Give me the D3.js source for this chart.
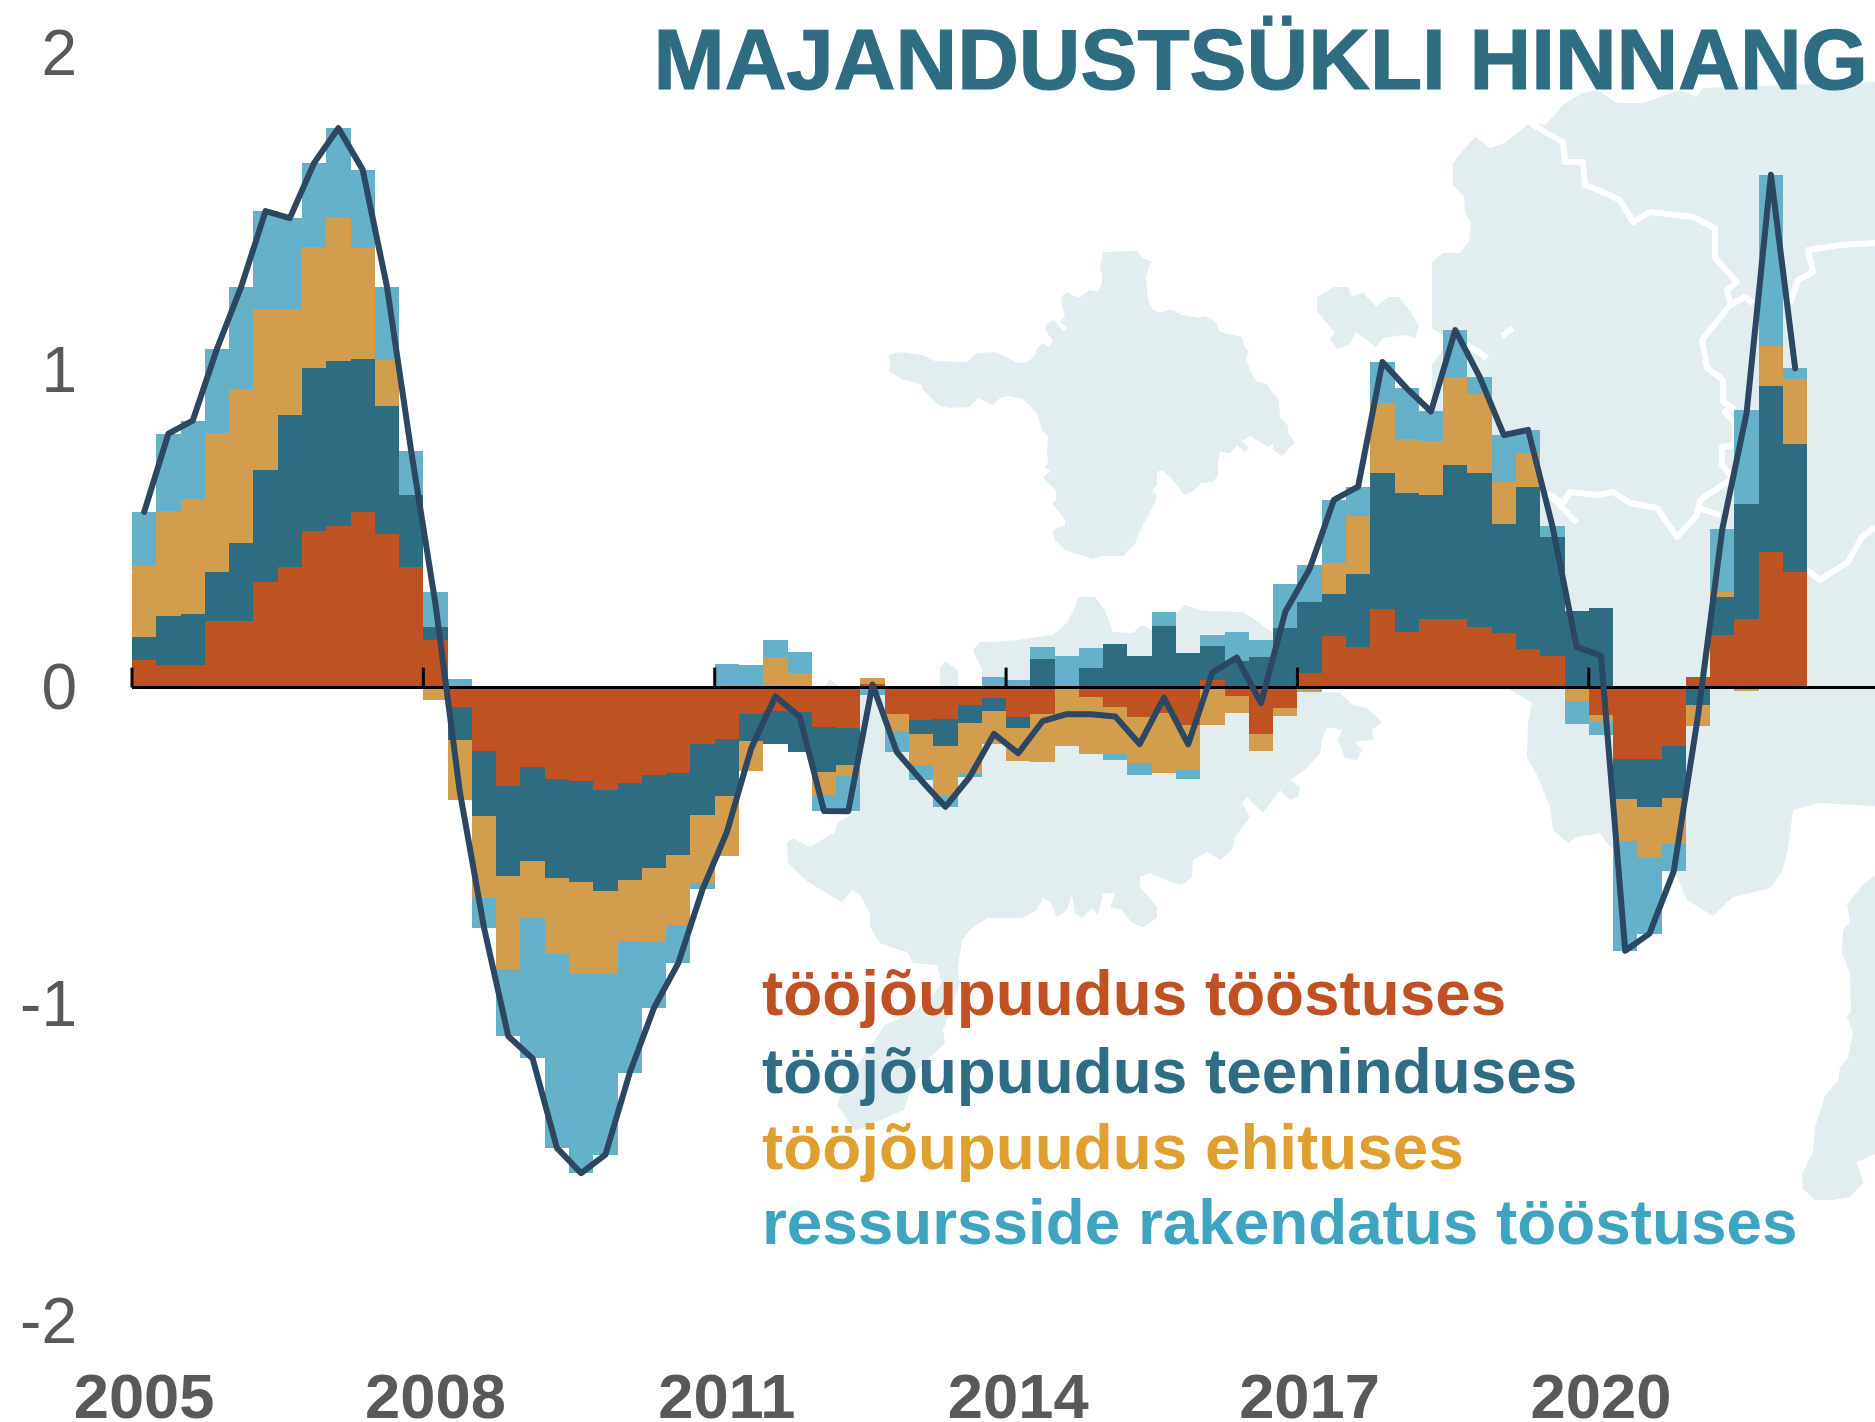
<!DOCTYPE html>
<html lang="et">
<head>
<meta charset="utf-8">
<title>Majandustsükli hinnang</title>
<script src="https://cdn.jsdelivr.net/npm/d3@7/dist/d3.min.js"></script>
<style>
html,body{margin:0;padding:0;background:#fff;}
svg{display:block;}
text{font-family:"Liberation Sans",Arial,sans-serif;}
</style>
</head>
<body>
<svg id="chart" width="1875" height="1422"></svg>
<script>
// ---- data ----
const firstYear = 2005;
const quarterCount = 69;
const yearTicks = [2005, 2008, 2011, 2014, 2017, 2020];
const valueTicks = [2, 1, 0, -1, -2];

const industryLabour = [.086,.071,.071,.211,.211,.333,.380,.495,.510,.554,.485,.380,.150,-.062,-.201,-.309,-.252,-.287,-.295,-.322,-.302,-.277,-.269,-.177,-.163,-.082,-.075,-.077,-.124,-.126,.010,-.084,-.103,-.098,-.054,-.032,-.093,-.082,0,-.030,-.061,-.093,-.080,-.119,.025,-.027,-.145,-.064,.045,.162,.129,.247,.175,.216,.216,.192,.172,.121,.100,0,-.088,-.225,-.225,-.184,.032,.167,.217,.429,.364];
const serviceLabour = [.075,.154,.162,.153,.244,.352,.479,.512,.519,.484,.403,.227,.040,-.104,-.204,-.285,-.296,-.315,-.319,-.319,-.306,-.293,-.259,-.225,-.179,-.087,-.104,-.126,-.142,-.117,0,0,-.042,-.087,-.057,-.042,-.036,.090,0,.062,.138,.099,.195,.108,.105,.084,.095,.187,.226,.133,.230,.431,.438,.390,.486,.484,.345,.513,.374,.243,.250,-.127,-.152,-.165,-.055,.120,.362,.523,.404];
const constructionLabour = [.224,.333,.362,.439,.487,.509,.335,.383,.455,.349,.146,0,-.039,-.189,-.260,-.295,-.178,-.237,-.288,-.264,-.190,-.231,-.222,-.215,-.190,-.095,.095,.046,-.074,-.036,.021,-.054,-.100,-.156,-.162,-.105,-.103,-.152,-.185,-.179,-.148,-.146,-.190,-.140,-.119,-.053,-.055,-.025,-.013,.099,.183,.219,.170,.171,.279,.249,.133,.105,0,-.043,-.021,-.132,-.162,-.144,-.065,.014,-.010,.127,.207];
const capacityUse = [.169,.243,.247,.266,.323,.309,.287,.265,.281,.247,.231,.138,.112,.027,-.093,-.211,-.444,-.613,-.630,-.568,-.417,-.209,-.119,-.019,.076,.070,.056,.065,-.049,-.111,-.022,-.065,-.047,-.035,-.009,.033,.025,.038,.101,.063,-.020,-.038,.043,-.028,.037,.091,.056,.141,.116,.198,.092,.130,.161,.094,.147,.056,.147,.074,.036,-.072,-.040,-.346,-.237,-.086,0,.200,.298,.539,.032];
const cycleEstimate = [.554,.801,.842,1.069,1.265,1.503,1.481,1.655,1.765,1.634,1.265,.745,.263,-.328,-.758,-1.100,-1.170,-1.452,-1.532,-1.473,-1.215,-1.010,-.869,-.636,-.456,-.192,-.028,-.092,-.389,-.390,.010,-.203,-.292,-.376,-.282,-.146,-.207,-.106,-.084,-.084,-.091,-.178,-.032,-.179,.048,.095,-.049,.239,.374,.592,.634,1.027,.944,.871,1.128,.981,.797,.813,.510,.128,.101,-.830,-.776,-.579,-.088,.501,.867,1.618,1.007];

const seriesKeys = ["industry", "service", "construction", "capacity"];
const seriesLabels = ["tööjõupuudus tööstuses", "tööjõupuudus teeninduses", "tööjõupuudus ehituses", "ressursside rakendatus tööstuses"];
const barColours = ["#BE5220", "#2E6C82", "#D39D4E", "#65B1C9"];
const textColours = ["#BF5122", "#2F6D84", "#E0A030", "#3FA4BF"];
const titleText = "MAJANDUSTSÜKLI HINNANG";

// ---- decorative background map outlines ----
const mapLand = [
  [[889,355],[900,352],[923,355],[935,361],[967,362],[977,353],[995,352],[1008,358],[1017,363],[1028,362],[1035,355],[1037,348],[1043,343],[1048,347],[1053,341],[1045,330],[1046,324],[1054,320],[1063,331],[1067,328],[1060,322],[1065,315],[1061,303],[1062,296],[1067,292],[1078,298],[1090,290],[1097,292],[1102,285],[1102,273],[1100,268],[1103,252],[1137,251],[1143,258],[1152,262],[1148,268],[1146,278],[1148,300],[1153,310],[1160,313],[1170,309],[1182,315],[1200,318],[1205,316],[1215,321],[1220,332],[1233,335],[1242,337],[1245,348],[1249,352],[1246,358],[1250,370],[1257,382],[1267,384],[1272,392],[1279,400],[1280,417],[1288,426],[1288,433],[1295,442],[1282,456],[1273,450],[1273,443],[1268,447],[1250,436],[1242,441],[1249,448],[1245,452],[1237,445],[1230,453],[1220,452],[1218,462],[1218,475],[1213,482],[1202,483],[1192,492],[1184,495],[1173,480],[1162,470],[1157,472],[1157,485],[1153,490],[1157,497],[1152,508],[1137,537],[1136,543],[1123,556],[1103,556],[1093,559],[1077,554],[1065,550],[1055,540],[1052,531],[1065,525],[1065,520],[1052,503],[1056,500],[1056,490],[1043,478],[1051,470],[1045,468],[1048,462],[1047,452],[1048,437],[1042,430],[1037,413],[1023,399],[1008,396],[1000,398],[993,405],[978,398],[970,407],[948,408],[938,405],[923,390],[922,385],[902,379],[890,372]],
  [[1317,297],[1334,287],[1348,287],[1352,296],[1363,293],[1376,306],[1389,297],[1399,297],[1409,310],[1419,326],[1415,338],[1405,335],[1383,338],[1376,347],[1356,332],[1350,344],[1337,349],[1330,338],[1335,333],[1317,311]],
  [[823,688],[830,679],[840,688]],
  [[982,688],[982,677],[982,668],[977,660],[973,650],[980,642],[993,642],[1017,640],[1053,635],[1067,623],[1075,607],[1078,597],[1095,597],[1105,610],[1113,632],[1133,633],[1142,625],[1152,630],[1177,613],[1185,605],[1203,611],[1243,612],[1260,623],[1273,633],[1290,660],[1298,691],[1340,693],[1353,705],[1367,708],[1382,722],[1372,730],[1373,740],[1355,742],[1362,750],[1357,760],[1345,758],[1338,740],[1342,730],[1327,727],[1322,740],[1320,753],[1307,768],[1290,780],[1300,787],[1298,797],[1290,800],[1280,790],[1263,813],[1247,797],[1242,803],[1250,817],[1235,837],[1232,850],[1220,860],[1207,852],[1193,860],[1192,877],[1182,885],[1170,882],[1150,873],[1140,877],[1140,887],[1157,907],[1157,918],[1143,927],[1132,923],[1122,910],[1110,907],[1115,893],[1103,893],[1098,915],[1092,908],[1082,918],[1075,913],[1072,895],[1067,910],[1057,917],[1050,902],[1043,898],[1037,910],[1023,918],[1000,918],[987,918],[970,930],[962,940],[958,967],[960,983],[943,1030],[945,1043],[917,1070],[904,1110],[855,1131],[837,1105],[850,1075],[877,1037],[885,1025],[902,1017],[925,1005],[942,983],[937,965],[913,963],[908,953],[880,943],[870,927],[870,913],[860,895],[852,890],[842,902],[808,882],[788,863],[787,843],[793,838],[810,847],[825,838],[835,832],[837,823],[860,810],[860,690],[940,688],[940,668],[945,661],[958,670],[958,688]],
  [[1432,390],[1432,365],[1443,350],[1443,335],[1432,328],[1432,262],[1443,253],[1460,253],[1469,242],[1471,222],[1465,213],[1464,197],[1453,185],[1453,163],[1465,148],[1475,137],[1490,148],[1505,143],[1517,133],[1530,123],[1545,125],[1550,120],[1563,105],[1582,93],[1597,90],[1617,103],[1643,103],[1680,90],[1697,97],[1702,88],[1875,82],[1875,806],[1820,803],[1793,810],[1788,849],[1782,872],[1770,888],[1733,897],[1713,916],[1687,900],[1677,877],[1610,847],[1600,833],[1577,837],[1568,843],[1553,830],[1550,807],[1538,777],[1527,757],[1528,723],[1532,703],[1510,690],[1480,650],[1433,600]],
  [[1875,876],[1863,884],[1847,905],[1850,922],[1843,930],[1842,953],[1850,973],[1851,1011],[1847,1017],[1853,1032],[1848,1058],[1840,1067],[1838,1081],[1825,1096],[1815,1127],[1813,1152],[1802,1175],[1803,1189],[1815,1200],[1833,1200],[1850,1197],[1863,1183],[1857,1162],[1875,1154]]
];
const mapBorders = [
  [[1530,123],[1545,132],[1563,142],[1565,162],[1583,162],[1585,185],[1603,192],[1620,200],[1633,222],[1650,212],[1693,217],[1715,228],[1715,258],[1737,282],[1727,290],[1730,303]],
  [[1753,303],[1745,297],[1730,305],[1702,340],[1707,368],[1723,380],[1723,402],[1733,408],[1725,412],[1735,423],[1735,445],[1722,447],[1722,465],[1733,478],[1700,500],[1697,515],[1677,537],[1657,508],[1630,503],[1613,492],[1597,495],[1570,492],[1563,503],[1550,495],[1577,523]],
  [[1698,508],[1720,515]],
  [[1875,243],[1840,245],[1808,250],[1813,272],[1798,280],[1790,303]],
  [[1875,527],[1862,537],[1848,562],[1820,580],[1807,570]],
  [[1502,336],[1513,328]],
  [[1467,345],[1487,358]]
];

// ---- scales ----
const width = 1875, height = 1422;
const svg = d3.select("#chart");
const quarters = d3.range(quarterCount);
const x = d3.scaleBand().domain(quarters).range([132, 132 + 24.28 * quarterCount]);
const y = d3.scaleLinear().domain([-2, 2]).range([1321.6, 53.6]);
const quarterOfYear = yr => (yr - firstYear) * 4;

// ---- map ----
const outline = d3.line();
const mapG = svg.append("g");
mapG.selectAll("path.land").data(mapLand).join("path").attr("class", "land")
  .attr("d", d => outline(d) + "Z").attr("fill", "#E2EDEF");
mapG.selectAll("path.border").data(mapBorders).join("path").attr("class", "border")
  .attr("d", outline).attr("fill", "none").attr("stroke", "#fff").attr("stroke-width", 6)
  .attr("stroke-linejoin", "round");

// ---- stacked bars ----
const seriesArrays = [industryLabour, serviceLabour, constructionLabour, capacityUse];
const rows = quarters.map(i => {
  const r = { quarter: i };
  seriesKeys.forEach((k, s) => { r[k] = seriesArrays[s][i]; });
  return r;
});
const stacked = d3.stack().keys(seriesKeys).offset(d3.stackOffsetDiverging)(rows);
svg.append("g").selectAll("g").data(stacked).join("g")
  .attr("fill", (d, i) => barColours[i])
  .selectAll("rect").data(d => d).join("rect")
  .attr("shape-rendering", "crispEdges")
  .attr("x", d => x(d.data.quarter))
  .attr("width", x.bandwidth())
  .attr("y", d => y(Math.max(d[0], d[1])))
  .attr("height", d => Math.abs(y(d[0]) - y(d[1])));

// ---- zero axis with ticks ----
const axisG = svg.append("g").attr("transform", `translate(0,${y(0)})`);
axisG.append("line").attr("x1", x(0)).attr("x2", width).attr("stroke", "#000").attr("stroke-width", 3);
axisG.selectAll("line.tick").data(yearTicks).join("line").attr("class", "tick")
  .attr("x1", d => x(quarterOfYear(d))).attr("x2", d => x(quarterOfYear(d)))
  .attr("y1", 0).attr("y2", -20).attr("stroke", "#000").attr("stroke-width", 3);

// ---- estimate line ----
svg.append("path").datum(cycleEstimate)
  .attr("fill", "none").attr("stroke", "#2C4762").attr("stroke-width", 6)
  .attr("stroke-linejoin", "round").attr("stroke-linecap", "round")
  .attr("d", d3.line().x((d, i) => x(i) + x.bandwidth() / 2).y(d => y(d)));

// ---- value axis ----
const yAxis = d3.axisLeft(y).tickValues(valueTicks).tickSize(0).tickPadding(0)
  .tickFormat(d => String(d));
const yG = svg.append("g").attr("transform", "translate(77,0)").call(yAxis);
yG.select(".domain").remove();
yG.selectAll("text").attr("font-size", 64).attr("fill", "#595959")
  .style("font-family", '"Liberation Sans",Arial,sans-serif');

// ---- year labels ----
svg.append("g").selectAll("text").data(yearTicks).join("text")
  .attr("x", d => x(quarterOfYear(d)) + x.bandwidth() / 2)
  .attr("y", 1418).attr("text-anchor", "middle")
  .attr("font-size", 63.3).attr("font-weight", 700).attr("fill", "#595959")
  .text(d => d);

// ---- title ----
svg.append("text").attr("x", 1868).attr("y", 89).attr("text-anchor", "end")
  .attr("font-size", 85.4).attr("font-weight", 700).attr("fill", "#2E6C82")
  .attr("stroke", "#2E6C82").attr("stroke-width", 1.2).text(titleText);

// ---- legend ----
const legendBaselines = [1015, 1093, 1169, 1244];
svg.append("g").selectAll("text").data(seriesLabels).join("text")
  .attr("x", 762).attr("y", (d, i) => legendBaselines[i])
  .attr("font-size", 63.8).attr("font-weight", 700)
  .attr("fill", (d, i) => textColours[i]).text(d => d);
</script>
</body>
</html>
